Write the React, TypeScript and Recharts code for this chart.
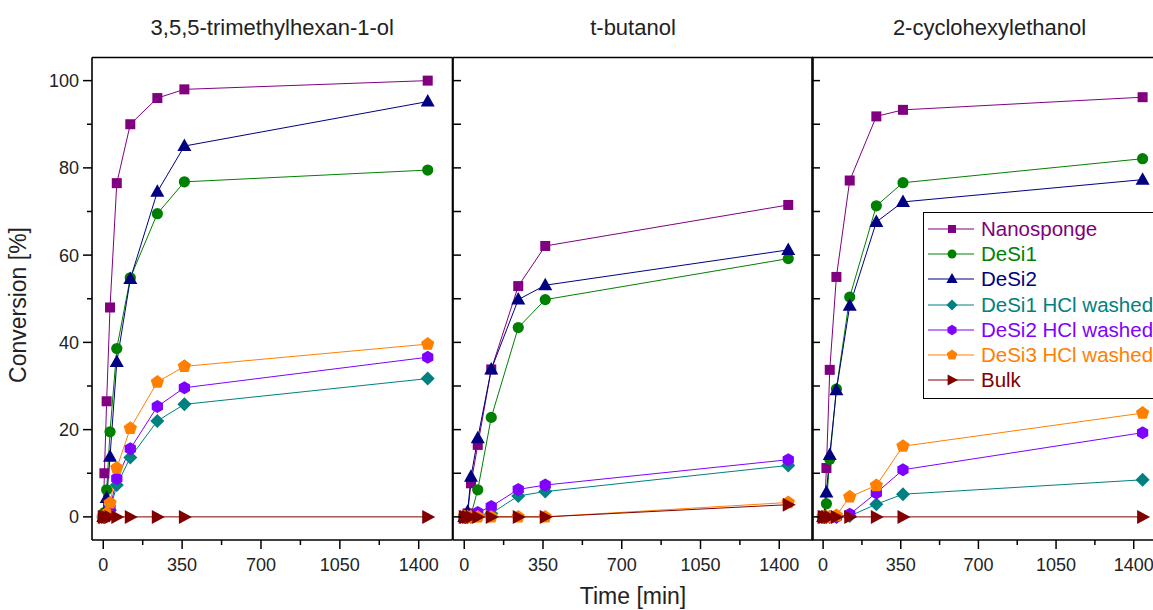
import { LineChart, Line, XAxis, YAxis, Legend, Label } from 'recharts';

const times = [0, 5, 15, 30, 60, 120, 240, 360, 1440];

const panelTitles = ['3,5,5-trimethylhexan-1-ol', 't-butanol', '2-cyclohexylethanol'];
const seriesNames = [
  'Nanosponge',
  'DeSi1',
  'DeSi2',
  'DeSi1 HCl washed',
  'DeSi2 HCl washed',
  'DeSi3 HCl washed',
  'Bulk',
];
const seriesColors = ['#800080', '#008000', '#000080', '#008080', '#8000FF', '#FF8000', '#800000'];
const seriesShapes = ['square', 'circle', 'triangle', 'diamond', 'hexagon', 'pentagon', 'triangleRight'];

const xTicks = [0, 175, 350, 525, 700, 875, 1050, 1225, 1400];
const xTickLabels = [0, 350, 700, 1050, 1400];
const yTicks = [0, 10, 20, 30, 40, 50, 60, 70, 80, 90, 100];
const yTickLabels = [0, 20, 40, 60, 80, 100];

// 3,5,5-trimethylhexan-1-ol
const trimethylNanosponge = [0, 10, 26.5, 48, 76.5, 90, 96, 98, 100];
const trimethylDeSi1 = [0, 1, 6.2, 19.5, 38.6, 54.8, 69.5, 76.8, 79.5];
const trimethylDeSi2 = [0, 0.8, 4.3, 13.8, 35.5, 54.5, 74.5, 85, 95.2];
const trimethylDeSi1Hcl = [0, 0, 0.5, 1.5, 7.3, 13.6, 22, 25.8, 31.7];
const trimethylDeSi2Hcl = [0, 0, 0.5, 2, 8.8, 15.6, 25.3, 29.6, 36.6];
const trimethylDeSi3Hcl = [0, 0, 0.8, 3.2, 11.2, 20.3, 30.9, 34.5, 39.6];
const trimethylBulk = [0, 0, 0, 0, 0, 0, 0, 0, 0];

// t-butanol
const butanolNanosponge = [0, 0, 0.8, 7.7, 16.5, 33.8, 52.9, 62.1, 71.5];
const butanolDeSi1 = [0, 0, 0, 0.5, 6.2, 22.8, 43.4, 49.8, 59.2];
const butanolDeSi2 = [0, 0, 1.2, 9.2, 18, 33.8, 49.8, 53.1, 61.2];
const butanolDeSi1Hcl = [0, 0, 0, 0, 0.3, 0.8, 4.8, 5.8, 11.8];
const butanolDeSi2Hcl = [0, 0, 0, 0.3, 1, 2.4, 6.3, 7.3, 13.1];
const butanolDeSi3Hcl = [0, 0, 0, 0, 0, 0, 0, 0, 3.3];
const butanolBulk = [0, 0, 0, 0, 0, 0, 0, 0, 2.8];

// 2-cyclohexylethanol
const cyclohexylNanosponge = [0, 0, 11.2, 33.7, 55, 77.1, 91.8, 93.3, 96.2];
const cyclohexylDeSi1 = [0, 0, 3, 13.2, 29.3, 50.4, 71.3, 76.6, 82.1];
const cyclohexylDeSi2 = [0, 0, 5.6, 14.2, 29, 48.4, 67.6, 72.2, 77.3];
const cyclohexylDeSi1Hcl = [0, 0, 0, 0, 0, 0.2, 2.9, 5.2, 8.5];
const cyclohexylDeSi2Hcl = [0, 0, 0, 0, 0, 0.6, 5.5, 10.8, 19.3];
const cyclohexylDeSi3Hcl = [0, 0, 0, 0, 0.3, 4.6, 7.2, 16.2, 23.8];
const cyclohexylBulk = [0, 0, 0, 0, 0, 0, 0, 0, 0];

const panelSeries = [
  [trimethylNanosponge, trimethylDeSi1, trimethylDeSi2, trimethylDeSi1Hcl, trimethylDeSi2Hcl, trimethylDeSi3Hcl, trimethylBulk],
  [butanolNanosponge, butanolDeSi1, butanolDeSi2, butanolDeSi1Hcl, butanolDeSi2Hcl, butanolDeSi3Hcl, butanolBulk],
  [cyclohexylNanosponge, cyclohexylDeSi1, cyclohexylDeSi2, cyclohexylDeSi1Hcl, cyclohexylDeSi2Hcl, cyclohexylDeSi3Hcl, cyclohexylBulk],
];

const FONT = '"Liberation Sans", Arial, Helvetica, sans-serif';
const PLOT_TOP = 57.5;
const CHART_H = 610;
const X_AXIS_H = 70;

// where each panel's plot box sits on the page
const panels = [
  { plotLeft: 92, yAxisWidth: 92, plotWidth: 360.5 },
  { plotLeft: 452.5, yAxisWidth: 1, plotWidth: 360 },
  { plotLeft: 812.3, yAxisWidth: 1, plotWidth: 355 },
];

function buildRows(series: number[][]) {
  return times.map((t, i) => {
    const row: Record<string, number> = { t };
    series.forEach((s, j) => {
      row[`s${j}`] = s[i];
    });
    return row;
  });
}

function polygon(cx: number, cy: number, r: number, n: number, startDeg: number) {
  const pts: string[] = [];
  for (let k = 0; k < n; k++) {
    const a = ((startDeg + (360 / n) * k) * Math.PI) / 180;
    pts.push(`${cx + r * Math.cos(a)},${cy + r * Math.sin(a)}`);
  }
  return pts.join(' ');
}

function Marker({ cx, cy, shape, color, s = 1 }: any) {
  if (cx == null || cy == null) return null;
  switch (shape) {
    case 'square':
      return <rect x={cx - 5 * s} y={cy - 5 * s} width={10 * s} height={10 * s} fill={color} />;
    case 'circle':
      return <circle cx={cx} cy={cy} r={5.6 * s} fill={color} />;
    case 'triangle':
      return (
        <polygon
          points={`${cx},${cy - 7.5 * s} ${cx + 7 * s},${cy + 5 * s} ${cx - 7 * s},${cy + 5 * s}`}
          fill={color}
        />
      );
    case 'diamond':
      return <polygon points={polygon(cx, cy, 7 * s, 4, -90)} fill={color} />;
    case 'hexagon':
      return <polygon points={polygon(cx, cy, 6.5 * s, 6, -90)} fill={color} />;
    case 'pentagon':
      return <polygon points={polygon(cx, cy, 7 * s, 5, -90)} fill={color} />;
    case 'triangleRight':
      return (
        <polygon
          points={`${cx - 5.5 * s},${cy - 7 * s} ${cx + 7.5 * s},${cy} ${cx - 5.5 * s},${cy + 7 * s}`}
          fill={color}
        />
      );
    default:
      return null;
  }
}

const XTick = ({ x, y, payload }: any) => {
  const major = xTickLabels.includes(payload.value);
  return (
    <g>
      <line x1={x} x2={x} y1={y} y2={y + (major ? 9 : 5)} stroke="#000" strokeWidth={1.5} />
      {major && (
        <text x={x} y={y + 31} textAnchor="middle" fontSize={18} fontFamily={FONT} fill="#222">
          {payload.value}
        </text>
      )}
    </g>
  );
};

const YTickOutside = ({ x, y, payload }: any) => {
  const major = yTickLabels.includes(payload.value);
  return (
    <g>
      <line x1={x - (major ? 9 : 5)} x2={x} y1={y} y2={y} stroke="#000" strokeWidth={1.5} />
      {major && (
        <text x={x - 13} y={y + 6.5} textAnchor="end" fontSize={18} fontFamily={FONT} fill="#222">
          {payload.value}
        </text>
      )}
    </g>
  );
};

const YTickInside = ({ x, y }: any) => (
  <line x1={x} x2={x + 8} y1={y} y2={y} stroke="#000" strokeWidth={1.5} />
);

const renderLegend = () => (
  <div
    style={{
      border: '1.5px solid #000',
      background: '#fff',
      width: 260,
      padding: '3px 0 5px 0',
      fontFamily: FONT,
    }}
  >
    {seriesNames.map((name, i) => (
      <div key={name} style={{ display: 'flex', alignItems: 'center', height: 25.3 }}>
        <svg width={46} height={20} style={{ marginLeft: 4, flex: 'none' }}>
          <line x1={0} x2={46} y1={10} y2={10} stroke={seriesColors[i]} strokeWidth={1} />
          <Marker cx={24} cy={10} shape={seriesShapes[i]} color={seriesColors[i]} s={0.8} />
        </svg>
        <span style={{ marginLeft: 7, fontSize: 20.5, color: seriesColors[i], whiteSpace: 'nowrap' }}>
          {name}
        </span>
      </div>
    ))}
  </div>
);

function Panel({ index }: { index: number }) {
  const p = panels[index];
  const rows = buildRows(panelSeries[index]);
  const marginLeft = 3;
  const chartLeft = p.plotLeft - p.yAxisWidth - marginLeft;
  const width = marginLeft + p.yAxisWidth + p.plotWidth + 1 + 3;
  const localPlotLeft = marginLeft + p.yAxisWidth;
  const frame = { stroke: '#000', strokeWidth: 1.6 };

  return (
    <div style={{ position: 'absolute', left: chartLeft, top: 0 }}>
      <LineChart
        width={width}
        height={CHART_H}
        data={rows}
        margin={{ top: PLOT_TOP - 1, right: 3, bottom: 0, left: marginLeft }}
      >
        <XAxis
          dataKey="t"
          type="number"
          domain={[-50, 1550]}
          ticks={xTicks}
          interval={0}
          allowDataOverflow
          height={X_AXIS_H}
          tickLine={false}
          tickSize={0}
          tickMargin={0}
          axisLine={frame}
          tick={<XTick />}
        >
          {index === 1 && (
            <Label
              content={() => (
                <text
                  x={localPlotLeft + p.plotWidth / 2}
                  y={604}
                  textAnchor="middle"
                  fontSize={23}
                  fontFamily={FONT}
                  fill="#222"
                >
                  Time [min]
                </text>
              )}
            />
          )}
        </XAxis>
        <XAxis
          xAxisId="frame"
          orientation="top"
          dataKey="t"
          type="number"
          domain={[-50, 1550]}
          height={1}
          tick={false}
          tickLine={false}
          axisLine={frame}
        >
          <Label
            content={() => (
              <text
                x={localPlotLeft + p.plotWidth / 2}
                y={35}
                textAnchor="middle"
                fontSize={22}
                fontFamily={FONT}
                fill="#222"
              >
                {panelTitles[index]}
              </text>
            )}
          />
        </XAxis>
        <YAxis
          type="number"
          domain={[-5.3, 105.3]}
          ticks={yTicks}
          interval={0}
          allowDataOverflow
          width={p.yAxisWidth}
          tickLine={false}
          tickSize={0}
          tickMargin={0}
          axisLine={frame}
          tick={index === 0 ? <YTickOutside /> : <YTickInside />}
        >
          {index === 0 && (
            <Label
              content={() => (
                <text
                  x={29}
                  y={305}
                  transform="rotate(-90 29 305)"
                  textAnchor="middle"
                  fontSize={23}
                  fontFamily={FONT}
                  fill="#222"
                >
                  Conversion [%]
                </text>
              )}
            />
          )}
        </YAxis>
        <YAxis
          yAxisId="frame"
          orientation="right"
          type="number"
          domain={[-5.3, 105.3]}
          width={1}
          tick={false}
          tickLine={false}
          axisLine={frame}
        />
        {seriesNames.map((name, j) => (
          <Line
            key={name}
            name={name}
            dataKey={`s${j}`}
            type="linear"
            stroke={seriesColors[j]}
            strokeWidth={1}
            isAnimationActive={false}
            activeDot={false}
            dot={(props: any) => (
              <Marker
                key={`dot-${j}-${props.index}`}
                cx={props.cx}
                cy={props.cy}
                shape={seriesShapes[j]}
                color={seriesColors[j]}
              />
            )}
          />
        ))}
        {index === 2 && (
          <Legend
            layout="vertical"
            align="center"
            verticalAlign="middle"
            content={renderLegend}
            wrapperStyle={{ left: 923 - chartLeft, top: 212, width: 262, height: 196 }}
          />
        )}
      </LineChart>
    </div>
  );
}

export default function App() {
  return (
    <div
      style={{
        position: 'absolute',
        left: 0,
        top: 0,
        width: 1153,
        height: 610,
        overflow: 'hidden',
        background: '#fff',
        fontFamily: FONT,
      }}
    >
      <Panel index={0} />
      <Panel index={1} />
      <Panel index={2} />
    </div>
  );
}
